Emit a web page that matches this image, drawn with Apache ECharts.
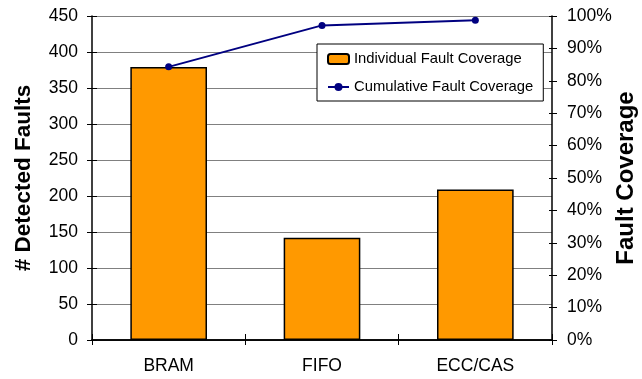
<!DOCTYPE html>
<html>
<head>
<meta charset="utf-8">
<script src="https://cdn.jsdelivr.net/npm/echarts@6/dist/echarts.min.js"></script>
<style>html,body{margin:0;padding:0;background:#fff}#c{width:642px;height:379px}</style>
</head>
<body>
<div id="c"></div>
<script>
const categories = ['BRAM', 'FIFO', 'ECC/CAS'];
const individualFaults = [379, 142, 209];
const cumulativeCoverage = [84.3, 97.1, 98.7];
const leftTicks = {min: 0, max: 450, interval: 50};
const rightTicks = {min: 0, max: 100, interval: 10};

const FONT = "'Liberation Sans', Arial, sans-serif";
const chart = echarts.init(document.getElementById('c'), null, {renderer: 'canvas'});
const tickStyle = {color: '#000', width: 1};
chart.setOption({
  animation: false,
  textStyle: {fontFamily: FONT},
  grid: {left: 92, right: 90, top: 16, bottom: 39, containLabel: false, outerBoundsMode: 'none'},
  legend: {
    orient: 'vertical', left: 317, top: 44,
    backgroundColor: '#fff', borderColor: '#000', borderWidth: 1,
    borderRadius: 0, padding: [6, 10, 5, 10],
    itemWidth: 21, itemHeight: 10, itemGap: 10,
    textStyle: {fontFamily: FONT, fontSize: 14.8, lineHeight: 18, color: '#000'},
    data: ['Individual Fault Coverage', 'Cumulative Fault Coverage']
  },
  xAxis: [
    {type: 'category', data: categories, position: 'bottom', boundaryGap: true,
     axisLine: {lineStyle: {color: '#000', width: 1.5}},
     axisTick: {show: true, length: 5, lineStyle: tickStyle},
     axisLabel: {color: '#000', fontSize: 17.5, fontFamily: FONT, margin: 17}},
    {type: 'category', data: categories, position: 'bottom', boundaryGap: true,
     axisLine: {show: false},
     axisTick: {show: true, inside: true, length: 6, lineStyle: tickStyle},
     axisLabel: {show: false}},
    {type: 'category', data: categories, position: 'top', boundaryGap: true,
     axisLine: {show: true, lineStyle: {color: '#000', width: 1.5}},
     axisTick: {show: false}, axisLabel: {show: false}}
  ],
  yAxis: [
    {type: 'value', position: 'left', min: leftTicks.min, max: leftTicks.max, interval: leftTicks.interval,
     name: '# Detected Faults', nameLocation: 'middle', nameGap: 57, nameMoveOverlap: false,
     nameTextStyle: {fontFamily: FONT, fontSize: 22.5, fontWeight: 'bold', color: '#000'},
     axisLine: {show: true, lineStyle: {color: '#000', width: 1.5}},
     axisTick: {show: true, length: 5, lineStyle: tickStyle},
     axisLabel: {color: '#000', fontSize: 17.5, fontFamily: FONT, margin: 14},
     splitLine: {show: true, lineStyle: {color: '#808080', width: 1}}},
    {type: 'value', position: 'right', min: rightTicks.min, max: rightTicks.max, interval: rightTicks.interval,
     name: 'Fault Coverage', nameLocation: 'middle', nameGap: 62, nameMoveOverlap: false,
     nameTextStyle: {fontFamily: FONT, fontSize: 24, fontWeight: 'bold', color: '#000'},
     axisLine: {show: true, lineStyle: {color: '#000', width: 1.5}},
     axisTick: {show: true, length: 5, lineStyle: tickStyle},
     axisLabel: {color: '#000', fontSize: 17.5, fontFamily: FONT, margin: 15, formatter: '{value}%'},
     splitLine: {show: false}},
    {type: 'value', position: 'left', min: leftTicks.min, max: leftTicks.max, interval: leftTicks.interval,
     axisLine: {show: false}, axisTick: {show: true, inside: true, length: 5, lineStyle: tickStyle},
     axisLabel: {show: false}, splitLine: {show: false}},
    {type: 'value', position: 'right', min: rightTicks.min, max: rightTicks.max, interval: rightTicks.interval,
     axisLine: {show: false}, axisTick: {show: true, inside: true, length: 3, lineStyle: tickStyle},
     axisLabel: {show: false}, splitLine: {show: false}}
  ],
  series: [
    {name: 'Individual Fault Coverage', type: 'bar', xAxisIndex: 0, yAxisIndex: 0,
     data: individualFaults, barWidth: '50%',
     itemStyle: {color: '#FF9900', borderColor: '#000', borderWidth: 1.5}},
    {name: 'Cumulative Fault Coverage', type: 'line', xAxisIndex: 0, yAxisIndex: 1,
     data: cumulativeCoverage, symbol: 'circle', symbolSize: 7,
     lineStyle: {color: '#000080', width: 2},
     itemStyle: {color: '#000080'}}
  ]
});
</script>
</body>
</html>
